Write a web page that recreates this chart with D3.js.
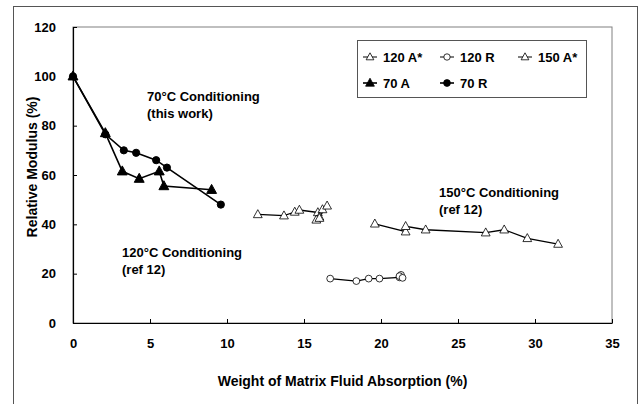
<!DOCTYPE html>
<html><head><meta charset="utf-8">
<script src="https://cdn.jsdelivr.net/npm/d3@7/dist/d3.min.js"></script>
<style>
body{margin:0;background:#fff;}
svg text{font-family:"Liberation Sans",Arial,sans-serif;font-weight:bold;fill:#000;}
</style></head>
<body><svg id="c" width="644" height="404"></svg>
<script>
// Data
const xTicks = [0,5,10,15,20,25,30,35];
const yTicks = [0,20,40,60,80,100,120];
const r70x = [0,2.1,3.3,4.1,5.4,6.1,9.6];
const r70y = [100,76.5,70,69,66,63,48];
const a70x = [0,2.1,3.2,4.3,5.6,5.9,9.0];
const a70y = [100,77,61.5,58.5,61.5,55.5,54];
const a120x = [12.0,13.7,14.4,14.7,15.9,16.2,16.5,16.0,15.8,16.0];
const a120y = [44,43.5,45,45.8,44.8,46,47.5,43,41.8,42.5];
const r120x = [16.7,18.4,19.2,19.9,21.2,21.3,21.2,21.4];
const r120y = [18,17,18,18,18.5,19.5,19,18.3];
const a150x = [19.6,21.6,21.6,22.9,26.8,28.0,29.5,31.5];
const a150y = [40.2,37,39.2,37.8,36.6,37.8,34.3,32];
const seriesNames = ["120 A*","120 R","150 A*","70 A","70 R"];

const svg = d3.select("#c");
const L=73,R=612,T=27,B=323;
const x = d3.scaleLinear().domain([0,35]).range([L,R]);
const y = d3.scaleLinear().domain([0,120]).range([B,T]);

// outer frame
svg.append("rect").attr("x",13.5).attr("y",6.5).attr("width",624).attr("height",420)
  .attr("fill","none").attr("stroke","#555").attr("stroke-width",1);
// plot area border
svg.append("rect").attr("x",L).attr("y",T).attr("width",R-L).attr("height",B-T)
  .attr("fill","none").attr("stroke","#808080").attr("stroke-width",1);

// axes
const xa = svg.append("g").attr("transform",`translate(0,${B})`)
  .call(d3.axisBottom(x).tickValues(xTicks).tickSizeInner(-4).tickSizeOuter(0).tickPadding(16));
const ya = svg.append("g").attr("transform",`translate(${L},0)`)
  .call(d3.axisLeft(y).tickValues(yTicks).tickSizeInner(-4).tickSizeOuter(0).tickPadding(17));
[xa,ya].forEach(g=>{
  g.select(".domain").attr("stroke","#000").attr("stroke-width",1.2);
  g.selectAll(".tick line").attr("stroke","#000");
  g.selectAll("text").style("font-size","13px").style("font-family",'"Liberation Sans",Arial,sans-serif').style("font-weight","bold");
});

// titles
svg.append("text").attr("x",(L+R)/2).attr("y",386).attr("text-anchor","middle")
  .style("font-size","14px").text("Weight of Matrix Fluid Absorption (%)");
svg.append("text").attr("transform",`translate(37,${(T+B)/2-8}) rotate(-90)`).attr("text-anchor","middle")
  .style("font-size","14px").text("Relative Modulus (%)");

// markers
function tri(s){return `M0,${-s*0.6}L${s*0.55},${s*0.4}L${-s*0.55},${s*0.4}Z`;}
function drawSeries(xs,ys,kind,filled,lw){
  const pts = xs.map((v,i)=>[x(v),y(ys[i])]);
  svg.append("path").attr("d",d3.line()(pts)).attr("fill","none").attr("stroke","#000").attr("stroke-width",lw);
  const g = svg.append("g");
  pts.forEach(p=>{
    if(kind==="tri"){
      g.append("path").attr("d",tri(filled?9:8)).attr("transform",`translate(${p[0]},${p[1]})`)
        .attr("fill",filled?"#000":"#fff").attr("stroke","#000").attr("stroke-width",filled?1:0.8);
    } else {
      g.append("circle").attr("cx",p[0]).attr("cy",p[1]).attr("r",filled?3.6:3.4)
        .attr("fill",filled?"#000":"#fff").attr("stroke","#000").attr("stroke-width",filled?1:0.8);
    }
  });
}
drawSeries(a70x,a70y,"tri",true,1.6);
drawSeries(r70x,r70y,"circ",true,1.6);
drawSeries(a120x,a120y,"tri",false,1.3);
drawSeries(r120x,r120y,"circ",false,1.3);
drawSeries(a150x,a150y,"tri",false,1.3);

// annotations
function ann(x0,y0,lines){
  lines.forEach((t,i)=>svg.append("text").attr("x",x0).attr("y",y0+i*17).style("font-size","13px").text(t));
}
ann(147,101,["70°C Conditioning","(this work)"]);
ann(439,197,["150°C Conditioning","(ref 12)"]);
ann(122,257,["120°C Conditioning","(ref 12)"]);

// legend
svg.append("rect").attr("x",357.5).attr("y",40.5).attr("width",229).attr("height",57)
  .attr("fill","#fff").attr("stroke","#555").attr("stroke-width",1);
const legItems = [
  {n:seriesNames[0],k:"tri",f:false,cx:370,cy:57},
  {n:seriesNames[1],k:"circ",f:false,cx:447,cy:57},
  {n:seriesNames[2],k:"tri",f:false,cx:525,cy:57},
  {n:seriesNames[3],k:"tri",f:true,cx:370,cy:83},
  {n:seriesNames[4],k:"circ",f:true,cx:447,cy:83}
];
legItems.forEach(d=>{
  svg.append("line").attr("x1",d.cx-7).attr("x2",d.cx+7).attr("y1",d.cy).attr("y2",d.cy).attr("stroke","#000").attr("stroke-width",d.f?1.6:1);
  if(d.k==="tri") svg.append("path").attr("d",tri(d.f?8:7)).attr("transform",`translate(${d.cx},${d.cy})`)
     .attr("fill",d.f?"#000":"#fff").attr("stroke","#000").attr("stroke-width",0.8);
  else svg.append("circle").attr("cx",d.cx).attr("cy",d.cy).attr("r",d.f?3.4:3.2)
     .attr("fill",d.f?"#000":"#fff").attr("stroke","#000").attr("stroke-width",0.8);
  svg.append("text").attr("x",d.cx+13).attr("y",d.cy+5).style("font-size","13px").text(d.n);
});
</script></body></html>
